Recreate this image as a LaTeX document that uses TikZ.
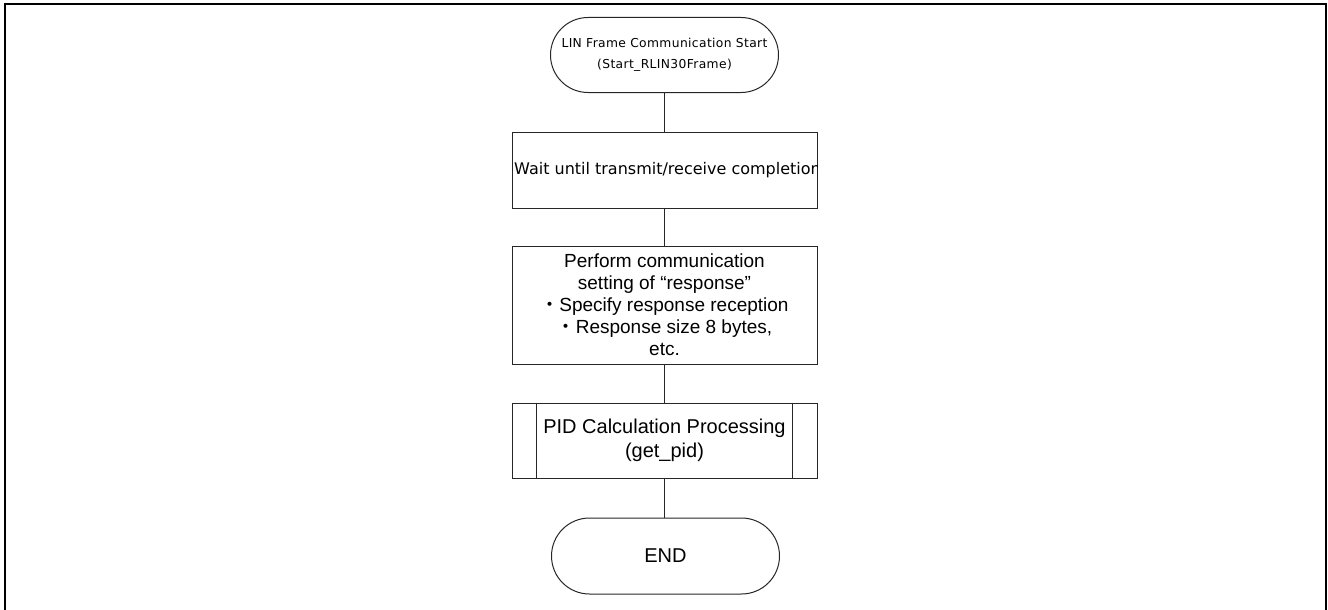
\documentclass[tikz,border=0pt]{standalone}
\usepackage{fontspec}
\setmainfont{Liberation Sans}
\newfontfamily\gothic[LetterSpace=3]{DejaVu Sans}
\newfontfamily\plainsans{DejaVu Sans}
\newfontfamily\cjk{Noto Sans CJK JP}
\usetikzlibrary{shapes.misc}

\begin{document}
\begin{tikzpicture}[x=1pt,y=-1pt,
  flowline/.style={draw=black!85, line width=1pt},
  procbox/.style={flowline, rectangle, minimum width=305pt, inner sep=0pt, align=center},
  termbox/.style={flowline, rounded rectangle, minimum width=228pt, minimum height=75pt, inner sep=0pt, align=center},
  frameline/.style={draw=black, line width=2pt}]

\useasboundingbox (0,0) rectangle (1328,610);

% outer frame (runs off the bottom of the page)
\draw[frameline] (5,620) -- (5,4.3) -- (1326,4.3) -- (1326,620);

% start terminal
\node[termbox, font=\gothic\fontsize{12.3}{21}\selectfont] (start) at (664.5,55)
  {LIN Frame Communication Start\\(Start\_RLIN30Frame)};

% wait step: text runs past the box and is cut at its edges
\node[procbox, minimum height=76pt] (wait) at (664.5,170) {};
\begin{scope}
  \clip (wait.south west) rectangle (wait.north east);
  \node[anchor=west, inner sep=0pt, font=\plainsans\fontsize{16}{19}\selectfont] (waittext) at (514,170)
    {Wait until transmit/receive completion};
\end{scope}

% response setting
\node[procbox, minimum height=118pt, font=\fontsize{19}{22}\selectfont] (setting) at (664.5,305)
  {Perform communication\\setting of “response”\\{\cjk ・}Specify response reception\\{\cjk ・}Response size 8 bytes,\\etc.};

% predefined process
\node[procbox, minimum height=75pt, font=\fontsize{20}{24}\selectfont] (pid) at (664.5,440.5)
  {PID Calculation Processing\\(get\_pid)};
\draw[flowline] ([xshift=25pt]pid.north west) -- ([xshift=25pt]pid.south west);
\draw[flowline] ([xshift=-25pt]pid.north east) -- ([xshift=-25pt]pid.south east);

% end terminal
\node[termbox, minimum height=76pt, font=\fontsize{20}{24}\selectfont] (finish) at (665.5,556) {END};

% connectors
\draw[flowline] (start.south) -- (wait.north);
\draw[flowline] (wait.south) -- (setting.north);
\draw[flowline] (setting.south) -- (pid.north);
\draw[flowline] (pid.south) -- (finish.north -| pid.south);
\end{tikzpicture}
\end{document}
